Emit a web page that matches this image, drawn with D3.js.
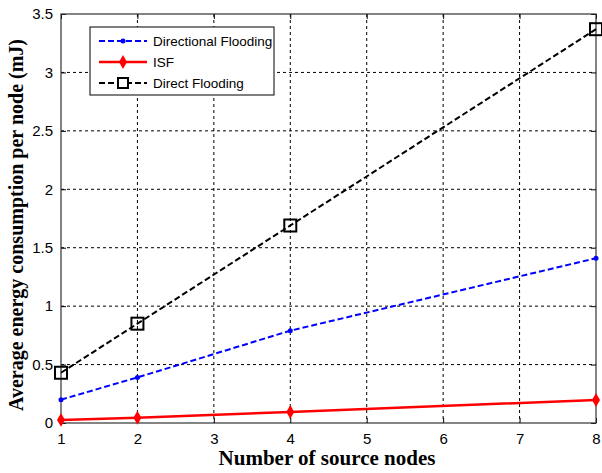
<!DOCTYPE html>
<html>
<head>
<meta charset="utf-8">
<script src="https://cdn.jsdelivr.net/npm/d3@7"></script>
<style>
  body { margin: 0; background: #fff; }
</style>
</head>
<body>
<svg id="chart" width="602" height="473"></svg>
<script>
// data
const nodes = [1, 2, 4, 8];
const directional = [0.2, 0.39, 0.79, 1.41];
const isf = [0.026, 0.045, 0.095, 0.197];
const direct = [0.43, 0.85, 1.69, 3.37];
const xTicks = [1, 2, 3, 4, 5, 6, 7, 8];
const yTicks = [0, 0.5, 1, 1.5, 2, 2.5, 3, 3.5];

const svg = d3.select("#chart");
const plotL = 61, plotR = 596, plotT = 14, plotB = 423;
const sans = "'Liberation Sans', Arial, sans-serif";
const serif = "'Liberation Serif', 'Times New Roman', serif";

const x = d3.scaleLinear().domain([1, 8]).range([plotL, plotR]);
const y = d3.scaleLinear().domain([0, 3.5]).range([plotB, plotT]);

// grid
const grid = svg.append("g");
grid.selectAll(".gx").data(xTicks.slice(1, -1)).enter().append("line")
    .attr("x1", d => x(d)).attr("x2", d => x(d))
    .attr("y1", plotT).attr("y2", plotB)
    .attr("stroke", "#000").attr("stroke-width", 1)
    .attr("stroke-dasharray", "3,3");
grid.selectAll(".gy").data(yTicks.slice(1, -1)).enter().append("line")
    .attr("x1", plotL).attr("x2", plotR)
    .attr("y1", d => y(d)).attr("y2", d => y(d))
    .attr("stroke", "#000").attr("stroke-width", 1)
    .attr("stroke-dasharray", "3,3");

// axes, ticks inward
svg.append("g")
    .attr("transform", `translate(0,${plotB})`)
    .call(d3.axisBottom(x).tickValues(xTicks).tickSizeInner(-5).tickSizeOuter(0).tickPadding(10).tickFormat(d3.format("d")))
    .call(g => g.select(".domain").remove())
    .call(g => g.selectAll("text").style("font-size", "15px").style("font-family", sans).attr("fill", "#000"));
svg.append("g")
    .attr("transform", `translate(${plotL},0)`)
    .call(d3.axisLeft(y).tickValues(yTicks).tickSizeInner(-5).tickSizeOuter(0).tickPadding(8).tickFormat(d => d))
    .call(g => g.select(".domain").remove())
    .call(g => g.selectAll("text").style("font-size", "15px").style("font-family", sans).attr("fill", "#000"));
svg.append("g")
    .attr("transform", `translate(0,${plotT})`)
    .call(d3.axisTop(x).tickValues(xTicks).tickSizeInner(-5).tickSizeOuter(0).tickFormat(""))
    .call(g => g.select(".domain").remove());
svg.append("g")
    .attr("transform", `translate(${plotR},0)`)
    .call(d3.axisRight(y).tickValues(yTicks).tickSizeInner(-5).tickSizeOuter(0).tickFormat(""))
    .call(g => g.select(".domain").remove());

svg.append("rect")
    .attr("x", plotL).attr("y", plotT)
    .attr("width", plotR - plotL).attr("height", plotB - plotT)
    .attr("fill", "none").attr("stroke", "#333").attr("stroke-width", 1.2);

// series
const line = d3.line().x(d => x(d[0])).y(d => y(d[1]));

function series(vals, color, dash, width) {
  svg.append("path")
      .attr("d", line(nodes.map((n, i) => [n, vals[i]])))
      .attr("fill", "none").attr("stroke", color)
      .attr("stroke-width", width)
      .attr("stroke-dasharray", dash);
}
series(directional, "#0000ff", "6,3", 2);
series(isf, "#ff0000", null, 2.5);
series(direct, "#000", "6,3", 2);

svg.append("g").selectAll("circle").data(nodes).enter().append("circle")
    .attr("cx", d => x(d)).attr("cy", (d, i) => y(directional[i]))
    .attr("r", 2.5).attr("fill", "#0000ff");
svg.append("g").selectAll("path").data(nodes).enter().append("path")
    .attr("transform", (d, i) => `translate(${x(d)},${y(isf[i])})`)
    .attr("d", d3.symbol(d3.symbolDiamond, 55))
    .attr("fill", "#ff0000");
svg.append("g").selectAll("rect").data(nodes).enter().append("rect")
    .attr("x", d => x(d) - 6).attr("y", (d, i) => y(direct[i]) - 6)
    .attr("width", 12).attr("height", 12)
    .attr("fill", "none").attr("stroke", "#000").attr("stroke-width", 2);

// legend
const legend = svg.append("g");
legend.append("rect")
    .attr("x", 90).attr("y", 27).attr("width", 184).attr("height", 68)
    .attr("fill", "#fff").attr("stroke", "#000").attr("stroke-width", 1);
const legendItems = [
  {name: "Directional Flooding", color: "#0000ff", dash: "6,3", w: 2, mark: "dot"},
  {name: "ISF", color: "#ff0000", dash: null, w: 2.5, mark: "diamond"},
  {name: "Direct Flooding", color: "#000", dash: "6,3", w: 2, mark: "square"}
];
legendItems.forEach((it, i) => {
  const ly = 41 + i * 21;
  legend.append("line")
      .attr("x1", 99).attr("x2", 147).attr("y1", ly).attr("y2", ly)
      .attr("stroke", it.color).attr("stroke-width", it.w)
      .attr("stroke-dasharray", it.dash);
  if (it.mark === "dot") {
    legend.append("circle").attr("cx", 123).attr("cy", ly).attr("r", 2.5).attr("fill", it.color);
  } else if (it.mark === "diamond") {
    legend.append("path").attr("transform", `translate(123,${ly})`)
        .attr("d", d3.symbol(d3.symbolDiamond, 55)).attr("fill", it.color);
  } else {
    legend.append("rect").attr("x", 118).attr("y", ly - 5).attr("width", 10).attr("height", 10)
        .attr("fill", "#fff").attr("stroke", it.color).attr("stroke-width", 2);
  }
  legend.append("text")
      .attr("x", 153).attr("y", ly + 5)
      .style("font-family", sans).style("font-size", "13.5px")
      .text(it.name);
});

// axis titles
svg.append("text")
    .attr("x", 327).attr("y", 465)
    .attr("text-anchor", "middle")
    .style("font-family", serif).style("font-weight", "bold").style("font-size", "21px")
    .text("Number of source nodes");
svg.append("text")
    .attr("transform", "translate(23,225) rotate(-90)")
    .attr("text-anchor", "middle")
    .style("font-family", serif).style("font-weight", "bold").style("font-size", "20px")
    .text("Average energy consumption per node (mJ)");
</script>
</body>
</html>
